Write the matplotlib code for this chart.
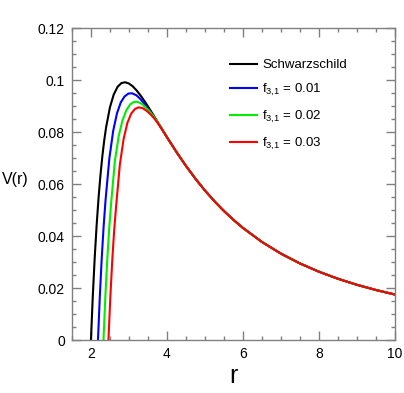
import matplotlib
matplotlib.use("Agg")
import matplotlib.pyplot as plt
from matplotlib.ticker import MultipleLocator

plt.rcParams['font.family'] = ['Liberation Sans', 'DejaVu Sans']
plt.rcParams['mathtext.fontset'] = 'custom'
plt.rcParams['mathtext.rm'] = 'Liberation Sans'
plt.rcParams['mathtext.it'] = 'Liberation Sans'
plt.rcParams['mathtext.default'] = 'regular'

# ---- data ----
r_tail = [4.25, 4.5, 4.75, 5.0, 5.25, 5.5, 5.75, 6.0, 6.5, 7.0, 7.5, 8.0, 8.5, 9.0, 9.5, 10.0]
V_tail = [0.07241, 0.06707, 0.06212, 0.0576, 0.05347, 0.04972, 0.04631, 0.04321,
          0.03781, 0.03332, 0.02955, 0.02637, 0.02366, 0.02134, 0.01934, 0.0176]

r_schw = [2.0, 2.05, 2.1, 2.15, 2.2, 2.25, 2.3, 2.35, 2.4, 2.5, 2.6, 2.7, 2.8, 2.9, 3.0,
          3.1, 3.2, 3.3, 3.4, 3.5, 3.6, 3.7, 3.8, 3.9, 4.0]
V_schw = [0.0, 0.01727, 0.03188, 0.04423, 0.05464, 0.0634, 0.07075, 0.07689, 0.08198,
          0.0896, 0.09453, 0.09747, 0.09892, 0.09925, 0.09877, 0.09767, 0.09613, 0.09427,
          0.09219, 0.08997, 0.08764, 0.08526, 0.08287, 0.08049, 0.07813]

r_f1 = [2.185, 2.235, 2.285, 2.335, 2.385, 2.485, 2.585, 2.685, 2.785, 2.885, 2.985,
        3.085, 3.2, 3.3, 3.4, 3.5, 3.6, 3.7, 3.8, 3.9, 4.0]
V_f1 = [0.0, 0.0172, 0.0318, 0.0440, 0.0540, 0.0700, 0.0805, 0.0873, 0.0915, 0.0938,
        0.0949, 0.0950, 0.0942, 0.0928, 0.0910, 0.0890, 0.0871, 0.0851, 0.0828, 0.0805, 0.0781]

r_f2 = [2.33, 2.38, 2.43, 2.48, 2.53, 2.63, 2.73, 2.83, 2.93, 3.03, 3.13, 3.23, 3.33,
        3.43, 3.53, 3.63, 3.73, 3.83, 3.93, 4.03]
V_f2 = [0.0, 0.0170, 0.0312, 0.0430, 0.0525, 0.0690, 0.0785, 0.0846, 0.0884, 0.0907,
        0.0917, 0.0917, 0.0910, 0.0897, 0.0882, 0.0865, 0.0845, 0.0822, 0.0798, 0.0774]

r_f3 = [2.46, 2.51, 2.56, 2.61, 2.66, 2.76, 2.86, 2.96, 3.06, 3.16, 3.26, 3.36, 3.46,
        3.56, 3.66, 3.76, 3.86, 3.96, 4.06, 4.16]
V_f3 = [0.0, 0.0165, 0.0305, 0.0420, 0.0512, 0.0675, 0.0775, 0.0837, 0.0872, 0.0890,
        0.0896, 0.0893, 0.0883, 0.0870, 0.0854, 0.0835, 0.0813, 0.0790, 0.0767, 0.0745]

labels = ['Schwarzschild', 'f$_{3{,}1}$ = 0.01', 'f$_{3{,}1}$ = 0.02', 'f$_{3{,}1}$ = 0.03']
colors = ['#000000', '#0000ff', '#00ee00', '#ff0000']

x_ticks = [2, 4, 6, 8, 10]
y_ticks = [0, 0.02, 0.04, 0.06, 0.08, 0.1, 0.12]
y_ticklabels = ['0', '0.02', '0.04', '0.06', '0.08', '0.1', '0.12']

# ---- figure ----
fig = plt.figure(figsize=(4.04, 3.93), dpi=100)
ax = fig.add_axes([0.178, 0.134, 0.800, 0.794])

series = [(r_schw, V_schw), (r_f1, V_f1), (r_f2, V_f2), (r_f3, V_f3)]
for (rr, vv), lab, c in zip(series, labels, colors):
    ax.plot(list(rr) + r_tail, list(vv) + V_tail, color=c, lw=1.5, label=lab,
            solid_joinstyle='round')

ax.set_xlim(1.5, 10)
ax.set_ylim(0, 0.12)
ax.set_xticks(x_ticks)
ax.set_xticklabels([str(t) for t in x_ticks])
ax.set_yticks(y_ticks)
ax.set_yticklabels(y_ticklabels)
ax.xaxis.set_minor_locator(MultipleLocator(0.5))
ax.yaxis.set_minor_locator(MultipleLocator(0.005))

spine_c = '#808080'
for s in ax.spines.values():
    s.set_color(spine_c)
    s.set_linewidth(1.0)
ax.tick_params(which='both', direction='in', top=True, right=True, color=spine_c,
               labelsize=10, width=1.0)
ax.tick_params(which='major', length=6.5, pad=5)
ax.tick_params(which='minor', length=3.2)

ax.set_xlabel('r', fontsize=18, labelpad=2)
fig.text(0.005, 0.542, 'V(r)', fontsize=11.5, ha='left', va='center')

leg = ax.legend(loc='upper left', bbox_to_anchor=(0.462, 0.931), frameon=False,
                fontsize=9.5, handlelength=2.0, handletextpad=0.4,
                labelspacing=0.83, borderpad=0.2)

fig.savefig('out.png', dpi=100)
